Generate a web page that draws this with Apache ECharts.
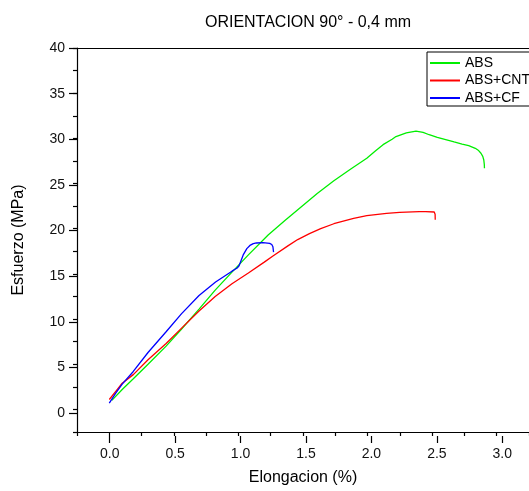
<!DOCTYPE html>
<html>
<head>
<meta charset="utf-8">
<script src="https://cdn.jsdelivr.net/npm/echarts@6/dist/echarts.min.js"></script>
<style>
html,body{margin:0;padding:0;background:#fff;}
#chart{width:529px;height:491px;}
</style>
</head>
<body>
<div id="chart"></div>
<script>
// ---- data ----
const seriesNames = ['ABS', 'ABS+CNT', 'ABS+CF'];

const absX = [0.02, 0.10, 0.186, 0.30, 0.44, 0.56, 0.695, 0.82, 0.95, 1.077, 1.23, 1.36, 1.485, 1.61, 1.739, 1.87, 1.994, 2.06, 2.12, 2.19, 2.22, 2.30, 2.375, 2.43, 2.477, 2.54, 2.605, 2.67, 2.732, 2.783, 2.834, 2.86, 2.878, 2.892, 2.90, 2.904, 2.905];
const absY = [1.0, 2.2, 3.4, 5.0, 7.0, 8.9, 11.1, 13.2, 15.2, 17.1, 19.3, 20.9, 22.4, 23.9, 25.3, 26.6, 27.8, 28.6, 29.3, 29.9, 30.2, 30.6, 30.8, 30.65, 30.4, 30.1, 29.85, 29.6, 29.37, 29.2, 28.9, 28.65, 28.35, 28.0, 27.6, 27.1, 26.7];

const cntX = [0.0, 0.05, 0.10, 0.186, 0.30, 0.44, 0.56, 0.695, 0.82, 0.95, 1.077, 1.20, 1.27, 1.383, 1.459, 1.55, 1.637, 1.739, 1.892, 1.994, 2.147, 2.248, 2.40, 2.45, 2.516, 2.523, 2.524];
const cntY = [1.1, 2.0, 2.9, 3.85, 5.5, 7.3, 9.0, 10.9, 12.5, 13.9, 15.1, 16.3, 17.0, 18.1, 18.8, 19.45, 20.0, 20.55, 21.15, 21.45, 21.7, 21.8, 21.9, 21.9, 21.85, 21.6, 21.0];

const cfX = [0.0, 0.05, 0.10, 0.186, 0.30, 0.44, 0.56, 0.695, 0.823, 0.95, 0.99, 1.005, 1.037, 1.065, 1.089, 1.115, 1.139, 1.19, 1.242, 1.258, 1.267, 1.272];
const cfY = [0.7, 1.8, 2.8, 4.2, 6.3, 8.6, 10.6, 12.6, 14.1, 15.3, 15.65, 15.9, 17.1, 17.8, 18.15, 18.35, 18.42, 18.45, 18.38, 18.25, 18.0, 17.4];

const xLabels = ['0.0', '0.5', '1.0', '1.5', '2.0', '2.5', '3.0'];
const yLabels = ['0', '5', '10', '15', '20', '25', '30', '35', '40'];

const colors = ['#00ee00', '#ff0000', '#0000ff'];

// ---- layout ----
const X_MIN = -0.25, X_MAX = 3.25, Y_MIN = -2.5, Y_MAX = 40;
const G_LEFT = 77, G_TOP = 48, G_W = 458, G_H = 388;
const pxPerX = G_W / (X_MAX - X_MIN);
const pxPerY = G_H / (Y_MAX - Y_MIN);
const majXMin = 0, majXMax = 3.0, majYMin = 0, majYMax = 40;
const g1Left = G_LEFT + (majXMin - X_MIN) * pxPerX;
const g1W = (majXMax - majXMin) * pxPerX;
const g1Top = G_TOP + (Y_MAX - majYMax) * pxPerY;
const g1H = (majYMax - majYMin) * pxPerY;
const xOffset = (G_TOP + G_H) - (g1Top + g1H);
const yOffset = g1Left - G_LEFT;

const FONT = 'Liberation Sans, Arial, sans-serif';
const zip = (xs, ys) => xs.map((x, i) => [x, ys[i]]);

const chart = echarts.init(document.getElementById('chart'), null, {renderer: 'canvas'});
chart.setOption({
  animation: false,
  backgroundColor: '#fff',
  title: {
    text: 'ORIENTACION 90° - 0,4 mm',
    left: 303, top: 10, textAlign: 'center',
    textStyle: {fontFamily: FONT, fontSize: 16, fontWeight: 'normal', color: '#000'}
  },
  legend: {
    data: seriesNames,
    orient: 'vertical',
    left: 427, top: 52,
    itemWidth: 30, itemHeight: 14, itemGap: 3.5,
    padding: [4, 8, 1, 2],
    borderColor: '#000', borderWidth: 1,
    backgroundColor: '#fff',
    itemStyle: {opacity: 0},
    textStyle: {fontFamily: FONT, fontSize: 14, color: '#000'}
  },
  grid: [
    {left: G_LEFT, top: G_TOP, width: G_W, height: G_H, containLabel: false},
    {left: g1Left, top: g1Top, width: g1W, height: g1H, containLabel: false}
  ],
  xAxis: [
    {
      type: 'value', gridIndex: 0, position: 'bottom',
      min: X_MIN, max: X_MAX, interval: 0.25,
      axisLine: {show: true, onZero: false, lineStyle: {color: '#000', width: 1.2}},
      axisTick: {show: true, inside: false, length: 4, lineStyle: {color: '#000', width: 1.2}},
      axisLabel: {show: false}, splitLine: {show: false},
      name: 'Elongacion (%)', nameLocation: 'middle', nameGap: 38,
      nameTextStyle: {fontFamily: FONT, fontSize: 16, color: '#000'}
    },
    {
      type: 'value', gridIndex: 0, position: 'top',
      min: X_MIN, max: X_MAX,
      axisLine: {show: true, onZero: false, lineStyle: {color: '#000', width: 1.2}},
      axisTick: {show: false}, axisLabel: {show: false}, splitLine: {show: false}
    },
    {
      type: 'value', gridIndex: 1, position: 'bottom', offset: xOffset,
      min: majXMin, max: majXMax, interval: 0.5,
      axisLine: {show: false, onZero: false},
      axisTick: {show: true, inside: false, length: 7, lineStyle: {color: '#000', width: 1.2}},
      axisLabel: {show: true, margin: 11, fontFamily: FONT, fontSize: 14, color: '#111',
        formatter: (v) => xLabels[Math.round(v / 0.5)]},
      splitLine: {show: false}
    }
  ],
  yAxis: [
    {
      type: 'value', gridIndex: 0, position: 'left',
      min: Y_MIN, max: Y_MAX, interval: 2.5,
      axisLine: {show: true, onZero: false, lineStyle: {color: '#000', width: 1.2}},
      axisTick: {show: true, inside: false, length: 4, lineStyle: {color: '#000', width: 1.2}},
      axisLabel: {show: false}, splitLine: {show: false},
      name: 'Esfuerzo (MPa)', nameLocation: 'middle', nameGap: 50,
      nameTextStyle: {fontFamily: FONT, fontSize: 16, color: '#000'}
    },
    {
      type: 'value', gridIndex: 1, position: 'left', offset: yOffset,
      min: majYMin, max: majYMax, interval: 5,
      axisLine: {show: false, onZero: false},
      axisTick: {show: true, inside: false, length: 8, lineStyle: {color: '#000', width: 1.2}},
      axisLabel: {show: true, margin: 12, fontFamily: FONT, fontSize: 14, color: '#111',
        formatter: (v) => yLabels[Math.round(v / 5)]},
      splitLine: {show: false}
    }
  ],
  series: [
    {name: seriesNames[0], type: 'line', xAxisIndex: 0, yAxisIndex: 0, data: zip(absX, absY),
     symbol: 'none', smooth: false, lineStyle: {color: colors[0], width: 1.3}, itemStyle: {color: colors[0]}},
    {name: seriesNames[1], type: 'line', xAxisIndex: 0, yAxisIndex: 0, data: zip(cntX, cntY),
     symbol: 'none', smooth: false, lineStyle: {color: colors[1], width: 1.3}, itemStyle: {color: colors[1]}},
    {name: seriesNames[2], type: 'line', xAxisIndex: 0, yAxisIndex: 0, data: zip(cfX, cfY),
     symbol: 'none', smooth: false, lineStyle: {color: colors[2], width: 1.3}, itemStyle: {color: colors[2]}}
  ]
});
</script>
</body>
</html>
